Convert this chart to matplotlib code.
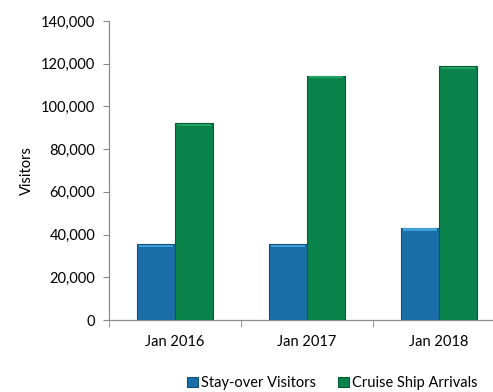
import numpy as np
import matplotlib.pyplot as plt
from matplotlib.ticker import FuncFormatter

months = ['Jan 2016', 'Jan 2017', 'Jan 2018']
stay_over = [35400, 35400, 43200]
cruise = [92100, 114400, 118800]
series_names = ['Stay-over Visitors', 'Cruise Ship Arrivals']

plt.rcParams['font.family'] = ['Lato', 'DejaVu Sans']

W, H = 493, 392
fig = plt.figure(figsize=(W / 100, H / 100), dpi=100)
ax = fig.add_axes([109 / W, (H - 320) / H, (505 - 109) / W, (320 - 21) / H])

x = np.arange(len(months))
bw = 0.29
b1 = ax.bar(x - bw / 2, stay_over, bw, color='#1a6ea7', edgecolor='#134f78',
            linewidth=0.8, label=series_names[0], zorder=3)
b2 = ax.bar(x + bw / 2, cruise, bw, color='#0a834b', edgecolor='#075c33',
            linewidth=0.8, label=series_names[1], zorder=3)

# thin light bevel along the top of each bar
for bars, top in ((b1, '#3d9fd6'), (b2, '#23a162')):
    for r in bars:
        ax.bar(r.get_x() + r.get_width() / 2, 1000, r.get_width() * 0.88,
               bottom=r.get_height() - 1300, color=top, linewidth=0, zorder=4)

ax.set_xlim(-0.5, 2.5)
ax.set_ylim(0, 140000)
ax.set_yticks(range(0, 140001, 20000))
ax.yaxis.set_major_formatter(FuncFormatter(lambda v, p: f'{int(v):,}'))
ax.set_xticks(x)
ax.set_xticklabels(months)
ax.set_xticks([-0.5, 0.5, 1.5, 2.5], minor=True)
ax.tick_params(axis='x', which='major', length=0, pad=11, labelsize=10.5)
ax.tick_params(axis='x', which='minor', length=5, color='#888888', direction='out')
ax.tick_params(axis='y', length=4, color='#888888', labelsize=10.5, pad=6)

for s in ('top', 'right'):
    ax.spines[s].set_visible(False)
for s in ('left', 'bottom'):
    ax.spines[s].set_color('#8c8c8c')
    ax.spines[s].set_linewidth(0.9)

ax.set_ylabel('Visitors', fontsize=10.5, labelpad=5)

ax.legend(handles=[b1, b2], loc='center', bbox_to_anchor=(332 / W, 1 - 383 / H),
          bbox_transform=fig.transFigure, ncol=2, frameon=False, fontsize=10.5,
          handlelength=0.75, handleheight=0.75, handletextpad=0.2, columnspacing=1.5)

fig.savefig('out.png', dpi=100)
